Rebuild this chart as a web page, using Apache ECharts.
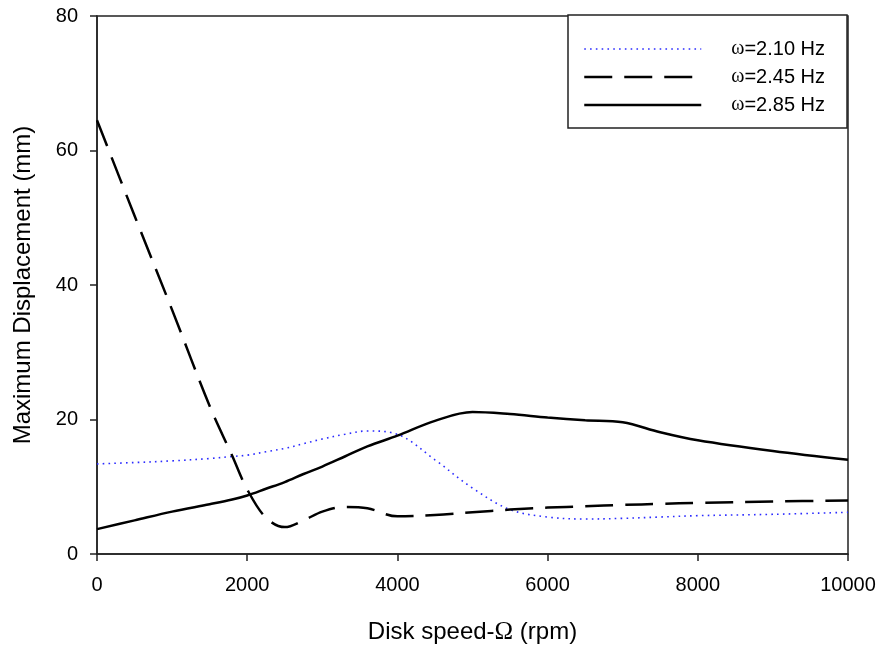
<!DOCTYPE html>
<html>
<head>
<meta charset="utf-8">
<script src="https://cdn.jsdelivr.net/npm/echarts@6/dist/echarts.min.js"></script>
<style>
  html, body { margin: 0; padding: 0; background: #fff; }
  #chart { width: 879px; height: 650px; }
</style>
</head>
<body>
<div id="chart"></div>
<script>
// Disk speed (rpm) sample points shared by all three curves
const speeds = [0, 500, 1000, 1500, 1800, 2000, 2250, 2500, 2750, 3000, 3300, 3600,
                4000, 4500, 5000, 5500, 6000, 6500, 7000, 7500, 8000, 9000, 10000];

// Maximum displacement (mm) for each excitation frequency
const disp210 = [13.4, 13.6, 13.85, 14.2, 14.5, 14.7, 15.2, 15.7, 16.4, 17.1, 17.8, 18.3,
                 17.8, 14.0, 9.8, 6.6, 5.5, 5.2, 5.3, 5.5, 5.7, 5.9, 6.2];
const disp245 = [64.5, 50.3, 36.3, 22.0, 14.6, 9.6, 5.4, 4.0, 5.0, 6.3, 7.0, 6.8,
                 5.6, 5.8, 6.2, 6.6, 6.9, 7.1, 7.3, 7.45, 7.6, 7.8, 7.95];
const disp285 = [3.7, 5.0, 6.3, 7.4, 8.1, 8.7, 9.7, 10.7, 11.9, 13.0, 14.5, 16.0,
                 17.6, 19.8, 21.1, 20.8, 20.3, 19.9, 19.6, 18.1, 16.9, 15.3, 14.0];

const seriesNames = ['2.10 Hz', '2.45 Hz', '2.85 Hz'];
const xTicks = [0, 2000, 4000, 6000, 8000, 10000];
const yTicks = [0, 20, 40, 60, 80];

const pairs = vals => speeds.map((s, i) => [s, vals[i]]);

// Line styles per curve, reused for the legend samples
const styles = [
  { color: '#2b2bff', width: 1.6, type: [1.6, 4.2] },
  { color: '#000', width: 2.5, type: [28, 12] },
  { color: '#000', width: 2.5, type: 'solid' }
];

const chart = echarts.init(document.getElementById('chart'), null, { renderer: 'canvas' });

const axisFont = { fontFamily: 'Liberation Sans, Arial, sans-serif', color: '#000' };

chart.setOption({
  animation: false,
  backgroundColor: '#fff',
  grid: {
    left: 97, right: 31, top: 16, bottom: 95,
    show: true, borderColor: '#222', borderWidth: 1.5, backgroundColor: 'transparent'
  },
  legend: {
    orient: 'vertical',
    left: 568, top: 15,
    padding: [24, 22, 13, 15],
    itemWidth: 117, itemHeight: 20, itemGap: 8,
    borderColor: '#222', borderWidth: 1.5,
    backgroundColor: '#fff',
    itemStyle: { opacity: 0 },
    data: seriesNames.map((n, i) => ({ name: n, lineStyle: styles[i] })),
    formatter: name => '{w|ω}{t|=' + name + '}',
    textStyle: {
      rich: {
        w: { fontFamily: 'Liberation Serif, Times New Roman, serif', fontSize: 20, color: '#000', padding: [0, 0, 0, 25] },
        t: { fontFamily: 'Liberation Sans, Arial, sans-serif', fontSize: 20, color: '#000' }
      }
    }
  },
  xAxis: {
    type: 'value', min: xTicks[0], max: xTicks[xTicks.length - 1], interval: 2000,
    name: '{a|Disk speed-}{o|Ω}{a| (rpm)}',
    nameLocation: 'middle', nameGap: 66,
    nameTextStyle: {
      rich: {
        a: { fontFamily: 'Liberation Sans, Arial, sans-serif', fontSize: 24, color: '#000' },
        o: { fontFamily: 'Liberation Serif, Times New Roman, serif', fontSize: 25, color: '#000' }
      }
    },
    axisLine: { show: true, lineStyle: { color: '#222', width: 1.5 } },
    axisTick: { show: true, inside: false, length: 7, lineStyle: { color: '#222', width: 1.5 } },
    axisLabel: Object.assign({ fontSize: 20, margin: 21, formatter: v => String(v) }, axisFont),
    splitLine: { show: false }
  },
  yAxis: {
    type: 'value', min: yTicks[0], max: yTicks[yTicks.length - 1], interval: 20,
    name: 'Maximum Displacement (mm)',
    nameLocation: 'middle', nameGap: 62,
    nameTextStyle: Object.assign({ fontSize: 24 }, axisFont),
    axisLine: { show: true, lineStyle: { color: '#222', width: 1.5 } },
    axisTick: { show: true, inside: false, length: 7, lineStyle: { color: '#222', width: 1.5 } },
    axisLabel: Object.assign({ fontSize: 20, margin: 19, formatter: v => String(v) }, axisFont),
    splitLine: { show: false }
  },
  series: [disp210, disp245, disp285].map((vals, i) => ({
    name: seriesNames[i], type: 'line', data: pairs(vals),
    smooth: 0.35, symbol: 'none', showSymbol: false,
    lineStyle: styles[i],
    itemStyle: { color: styles[i].color }
  }))
});
</script>
</body>
</html>
